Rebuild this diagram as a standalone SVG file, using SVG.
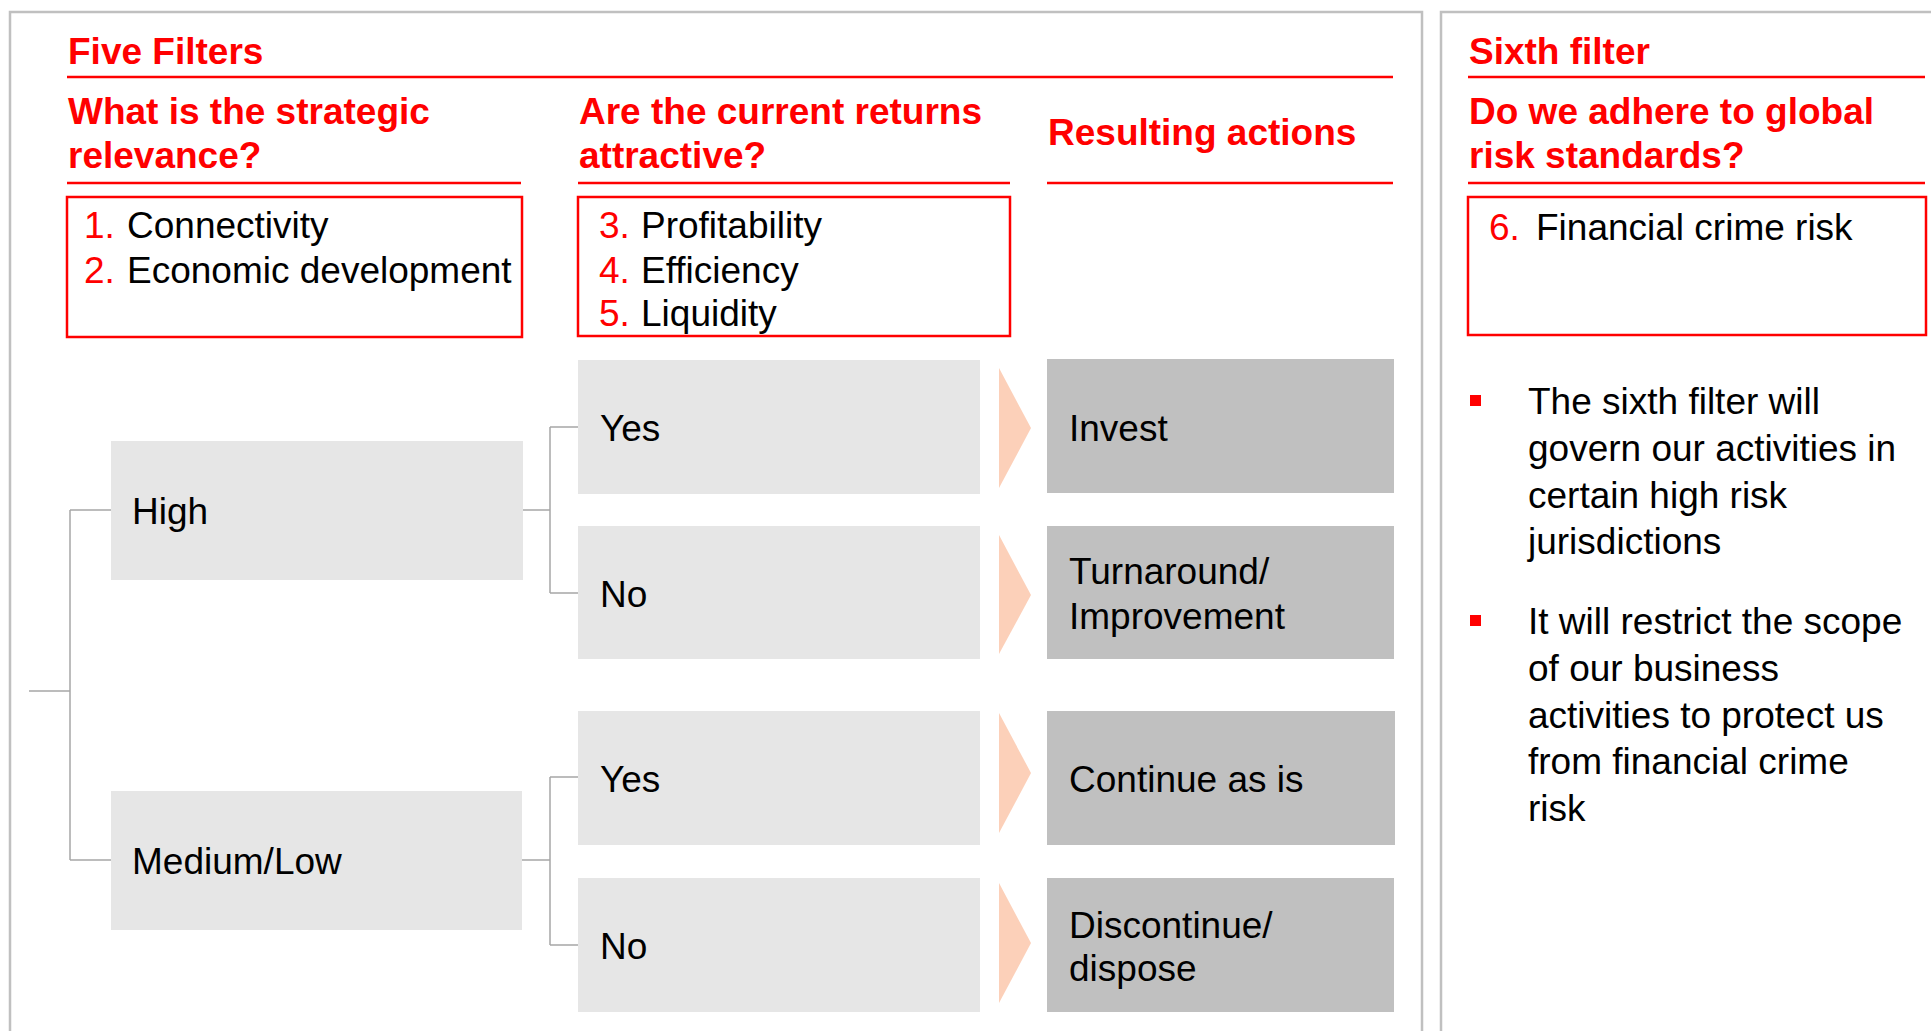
<svg xmlns="http://www.w3.org/2000/svg" width="1931" height="1031" viewBox="0 0 1931 1031">
<style>
.panel{fill:none;stroke:#c0c0c0;stroke-width:2.5}
.rl{stroke:#ff0000;stroke-width:2.5}
.rbox{fill:#fff;stroke:#ff0000;stroke-width:2.5}
.h{font-family:"Liberation Sans",Arial,sans-serif;font-weight:bold;font-size:37px;fill:#ff0000}
.t{font-family:"Liberation Sans",Arial,sans-serif;font-size:37px;fill:#000}
.n{fill:#ff0000}
.lb{fill:#e6e6e6}
.db{fill:#c0c0c0}
.ar{fill:#fcd0b9}
.cn{fill:none;stroke:#a6a6a6;stroke-width:1.5}
</style>
<rect width="1931" height="1031" fill="#fff"/>
<g id="panels">
<rect class="panel" x="10" y="12" width="1412" height="1100"/>
<rect class="panel" x="1441" y="12" width="600" height="1100"/>
</g>
<g id="header-five">
<text class="h" x="68" y="64">Five Filters</text>
<line class="rl" x1="67" y1="77" x2="1393" y2="77"/>
</g>
<g id="col1-header">
<text class="h" x="68" y="124">What is the strategic</text>
<text class="h" x="68" y="168">relevance?</text>
<line class="rl" x1="67" y1="183" x2="521" y2="183"/>
</g>
<g id="col1-box">
<rect class="rbox" x="67" y="197" width="455" height="140"/>
<text class="t" x="84" y="238"><tspan class="n">1.</tspan><tspan x="127">Connectivity</tspan></text>
<text class="t" x="84" y="283"><tspan class="n">2.</tspan><tspan x="127">Economic development</tspan></text>
</g>
<g id="col2-header">
<text class="h" x="579" y="124">Are the current returns</text>
<text class="h" x="579" y="168">attractive?</text>
<line class="rl" x1="578" y1="183" x2="1010" y2="183"/>
</g>
<g id="col2-box">
<rect class="rbox" x="578" y="197" width="432" height="139"/>
<text class="t" x="599" y="238"><tspan class="n">3.</tspan><tspan x="641">Profitability</tspan></text>
<text class="t" x="599" y="283"><tspan class="n">4.</tspan><tspan x="641">Efficiency</tspan></text>
<text class="t" x="599" y="326"><tspan class="n">5.</tspan><tspan x="641">Liquidity</tspan></text>
</g>
<g id="col3-header">
<text class="h" x="1048" y="145">Resulting actions</text>
<line class="rl" x1="1047" y1="183" x2="1393" y2="183"/>
</g>
<g id="connectors">
<path class="cn" d="M29 691H70M70 510V860M70 510H111M70 860H111"/>
<path class="cn" d="M523 510H550M550 427V593M550 427H578M550 593H578"/>
<path class="cn" d="M522 860H550M550 777V945M550 777H578M550 945H578"/>
</g>
<g id="node-high">
<rect class="lb" x="111" y="441" width="412" height="139"/>
<text class="t" x="132" y="524">High</text>
</g>
<g id="node-medlow">
<rect class="lb" x="111" y="791" width="411" height="139"/>
<text class="t" x="132" y="874">Medium/Low</text>
</g>
<g id="node-yes1">
<rect class="lb" x="578" y="360" width="402" height="134"/>
<text class="t" x="600" y="441">Yes</text>
</g>
<g id="node-no1">
<rect class="lb" x="578" y="526" width="402" height="133"/>
<text class="t" x="600" y="607">No</text>
</g>
<g id="node-yes2">
<rect class="lb" x="578" y="711" width="402" height="134"/>
<text class="t" x="600" y="792">Yes</text>
</g>
<g id="node-no2">
<rect class="lb" x="578" y="878" width="402" height="134"/>
<text class="t" x="600" y="959">No</text>
</g>
<g id="arrows">
<polygon class="ar" points="999,368 1031,428 999,488"/>
<polygon class="ar" points="999,535 1031,595 999,654"/>
<polygon class="ar" points="999,713 1031,773 999,833"/>
<polygon class="ar" points="999,883 1031,943 999,1003"/>
</g>
<g id="node-invest">
<rect class="db" x="1047" y="359" width="347" height="134"/>
<text class="t" x="1069" y="441">Invest</text>
</g>
<g id="node-turnaround">
<rect class="db" x="1047" y="526" width="347" height="133"/>
<text class="t" x="1069" y="584">Turnaround/</text>
<text class="t" x="1069" y="629">Improvement</text>
</g>
<g id="node-continue">
<rect class="db" x="1047" y="711" width="348" height="134"/>
<text class="t" x="1069" y="792">Continue as is</text>
</g>
<g id="node-discontinue">
<rect class="db" x="1047" y="878" width="347" height="134"/>
<text class="t" x="1069" y="938">Discontinue/</text>
<text class="t" x="1069" y="981">dispose</text>
</g>
<g id="header-sixth">
<text class="h" x="1469" y="64">Sixth filter</text>
<line class="rl" x1="1468" y1="77" x2="1925" y2="77"/>
<text class="h" x="1469" y="124">Do we adhere to global</text>
<text class="h" x="1469" y="168">risk standards?</text>
<line class="rl" x1="1468" y1="183" x2="1925" y2="183"/>
</g>
<g id="sixth-box">
<rect class="rbox" x="1468" y="197" width="458" height="138"/>
<text class="t" x="1489" y="240"><tspan class="n">6.</tspan><tspan x="1536">Financial crime risk</tspan></text>
</g>
<g id="bullets">
<rect x="1470" y="395" width="11" height="11" fill="#ff0000"/>
<text class="t" x="1528" y="414">The sixth filter will</text>
<text class="t" x="1528" y="461">govern our activities in</text>
<text class="t" x="1528" y="508">certain high risk</text>
<text class="t" x="1528" y="554">jurisdictions</text>
<rect x="1470" y="615" width="11" height="11" fill="#ff0000"/>
<text class="t" x="1528" y="634">It will restrict the scope</text>
<text class="t" x="1528" y="681">of our business</text>
<text class="t" x="1528" y="728">activities to protect us</text>
<text class="t" x="1528" y="774">from financial crime</text>
<text class="t" x="1528" y="821">risk</text>
</g>
</svg>
